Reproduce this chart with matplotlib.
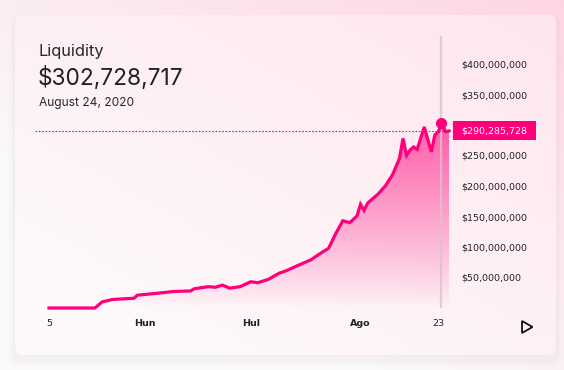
import numpy as np
import pandas as pd
import matplotlib
matplotlib.use("Agg")
import matplotlib.pyplot as plt
import matplotlib.dates as mdates
from matplotlib.patches import FancyBboxPatch, Polygon, Rectangle
from matplotlib.colors import to_rgb

# ---------------- data ----------------
dates = ["2020-05-05", "2020-05-18", "2020-05-20", "2020-05-23", "2020-05-29", "2020-05-30",
         "2020-06-06", "2020-06-09", "2020-06-14", "2020-06-15", "2020-06-19", "2020-06-21",
         "2020-06-23", "2020-06-25", "2020-06-28", "2020-07-01", "2020-07-03", "2020-07-06",
         "2020-07-09", "2020-07-11", "2020-07-14", "2020-07-18", "2020-07-20", "2020-07-23",
         "2020-07-25", "2020-07-27", "2020-07-29", "2020-07-31", "2020-08-01", "2020-08-02",
         "2020-08-03", "2020-08-06", "2020-08-08", "2020-08-10", "2020-08-12", "2020-08-13",
         "2020-08-14", "2020-08-15", "2020-08-16", "2020-08-17", "2020-08-19", "2020-08-21",
         "2020-08-22", "2020-08-23", "2020-08-24", "2020-08-25", "2020-08-26"]
liquidity_musd = [0, 0, 10, 14, 16, 21,
                  25, 27, 28, 31.5, 35, 34,
                  37.5, 32.5, 35, 43, 41.5, 47,
                  57, 61, 69, 79, 87, 98,
                  122, 143, 140, 151, 170, 160,
                  172, 187, 200, 218, 245, 278,
                  250, 259, 264, 260, 296.7, 256,
                  283.6, 289, 302.728717, 289, 290.285728]
xtick_dates = ["2020-05-05", "2020-06-01", "2020-07-01", "2020-08-01", "2020-08-23"]
xtick_labels = ["5", "Hun", "Hul", "Ago", "23"]
ytick_values = [50, 100, 150, 200, 250, 300, 350, 400]
title = "Liquidity"
headline_value = "$302,728,717"
headline_date = "August 24, 2020"
hover_date = "2020-08-24"
hover_value = 302.728717
current_value = 290.285728
current_label = "$290,285,728"

PINK = "#ff007a"

W, H = 564, 370
fig = plt.figure(figsize=(W / 100, H / 100), dpi=100)

# ---------------- background ----------------
bg = fig.add_axes([0, 0, 1, 1])
bg.set_xlim(0, W)
bg.set_ylim(H, 0)
bg.axis("off")

yy, xx = np.mgrid[0:H, 0:W]
t = np.clip(0.65 * (xx / W) + 0.75 * (1 - yy / H) - 0.45, 0, 1)
c0 = np.array(to_rgb("#f9f8fa"))
c1 = np.array(to_rgb("#ffd3e3"))
img = c0[None, None, :] * (1 - t[..., None]) + c1[None, None, :] * t[..., None]
bg.imshow(img, extent=[0, W, H, 0], aspect="auto", zorder=0, interpolation="bilinear")

# shadow
for i, a in enumerate([0.025, 0.02, 0.015]):
    sh = FancyBboxPatch((15 - 2 - i * 2, 15 + 1 - i * 2 + 2), 541 + 4 + i * 4, 340 + 4 + i * 4,
                        boxstyle="round,pad=0,rounding_size=%d" % (9 + i * 2),
                        facecolor="#b08898", edgecolor="none", alpha=a, zorder=1)
    bg.add_patch(sh)

card = FancyBboxPatch((15, 15), 541, 340, boxstyle="round,pad=0,rounding_size=8",
                      facecolor="#fdf4f7", edgecolor="#f6e6ec", linewidth=0.6, zorder=2)
bg.add_patch(card)
tc = np.clip(0.55 * (xx / W) + 0.65 * (1 - yy / H) - 0.2, 0, 1)
d0 = np.array(to_rgb("#fdf9fa"))
d1 = np.array(to_rgb("#ffe5ee"))
cimg = d0[None, None, :] * (1 - tc[..., None]) + d1[None, None, :] * tc[..., None]
im2 = bg.imshow(cimg, extent=[0, W, H, 0], aspect="auto", zorder=2.5, interpolation="bilinear")
im2.set_clip_path(card)

# header texts
bg.text(39, 56, title, fontsize=11.8, family=["Inter", "DejaVu Sans"], color="#26262e",
        va="baseline", ha="left", zorder=5)
bg.text(38, 85, headline_value, fontsize=16.3, family=["Inter", "DejaVu Sans"], color="#1f1f27",
        va="baseline", ha="left", zorder=5)
bg.text(39, 106, headline_date, fontsize=8.6, family=["Inter", "DejaVu Sans"], color="#26262e",
        va="baseline", ha="left", zorder=5)

# play triangle
bg.add_patch(Polygon([(522, 321), (522, 333), (532.5, 327)], closed=True, facecolor="none",
                     edgecolor="#111111", linewidth=1.3, zorder=5))

# ---------------- chart ----------------
x = pd.to_datetime(dates)
xn = mdates.date2num(x)
v = np.array(liquidity_musd)

start = mdates.date2num(pd.Timestamp(dates[0]))
left_px, right_px, bot_px, top_px = 35, 452, 315, 35
ppd = 3.54
ax = fig.add_axes([left_px / W, (H - bot_px) / H, (right_px - left_px) / W, (bot_px - top_px) / H])
ax.patch.set_alpha(0)
ax.set_xlim(start + (left_px - 49) / ppd, start + (right_px - 49) / ppd)
ymin, ymax = -(bot_px - 308) / 0.61, (308 - top_px) / 0.61
ax.set_ylim(ymin, ymax)

# gradient fill
poly = ax.fill_between(xn, 0, v, color="none", linewidth=0)
ng = 256
grad = np.zeros((ng, 2, 4))
pr = np.array(to_rgb(PINK))
vals = np.linspace(0, 310, ng)
grad[:, :, :3] = pr
grad[:, :, 3] = (np.clip(vals / 310, 0, 1) ** 0.9 * 0.62)[:, None]
gi = ax.imshow(grad, extent=[xn[0], xn[-1], 0, 310], origin="lower", aspect="auto",
               zorder=1, interpolation="bilinear")
gi.set_clip_path(poly.get_paths()[0], transform=ax.transData)

ax.plot(xn, v, color=PINK, linewidth=2.3, solid_joinstyle="miter", zorder=3)

# hover line & marker
hx = mdates.date2num(pd.Timestamp(hover_date))
ax.vlines(hx - 0.2, 0, ymax - 1.5, color="#d9c3cd", linewidth=1.6, alpha=0.8, zorder=2)
ax.plot([hx - 0.2], [hover_value], "o", color=PINK, markersize=7, zorder=4)

# current value dashed line & tag (drawn in the chart axes so it covers the tick label)
ax.axhline(current_value, color=PINK, linestyle=(0, (1.5, 1.5)), linewidth=0.8, zorder=2)
tag_y = 308 - current_value * 0.61
tag = Rectangle((452.5, tag_y - 9.5), 83, 19, facecolor=PINK, edgecolor="none",
                transform=bg.transData, clip_on=False, zorder=6)
ax.add_artist(tag)
ax.text(461, tag_y + 0.5, current_label, fontsize=6.8, color="white",
        va="center", ha="left", zorder=7, transform=bg.transData, clip_on=False)

# axes styling
for s in ax.spines.values():
    s.set_visible(False)
ax.set_xticks(mdates.date2num(pd.to_datetime(xtick_dates)))
ax.set_xticklabels(xtick_labels)
for lbl, txt in zip(ax.get_xticklabels(), xtick_labels):
    lbl.set_fontsize(6.8)
    lbl.set_color("#222222")
    if not txt.isdigit():
        lbl.set_fontweight("bold")
ax.tick_params(axis="x", length=0, pad=3)

ax.yaxis.tick_right()
ax.set_yticks(ytick_values)
ax.set_yticklabels(["${:,.0f}".format(val * 1e6) for val in ytick_values])
ax.tick_params(axis="y", length=0, pad=7, labelsize=6.8, labelcolor="#222222")

fig.savefig("out.png", dpi=100)
